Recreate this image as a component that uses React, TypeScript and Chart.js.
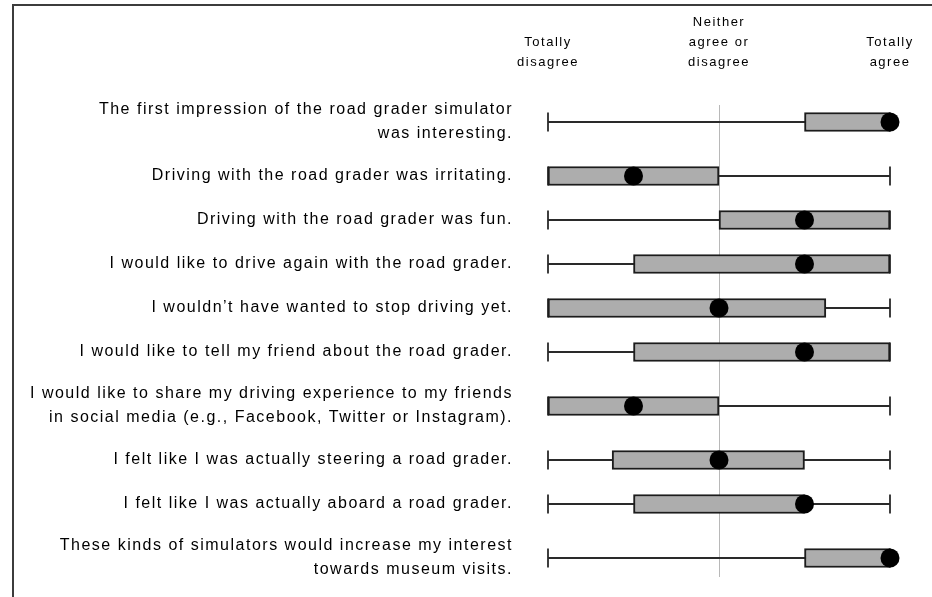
import React, { useEffect, useRef } from "react";
import { Chart, registerables } from "chart.js";

Chart.register(...registerables);

// Statements (each entry = lines of the label)
const categories: string[][] = [
  ["The first impression of the road grader simulator", "was interesting."],
  ["Driving with the road grader was irritating."],
  ["Driving with the road grader was fun."],
  ["I would like to drive again with the road grader."],
  ["I wouldn’t have wanted to stop driving yet."],
  ["I would like to tell my friend about the road grader."],
  ["I would like to share my driving experience to my friends", "in social media (e.g., Facebook, Twitter or Instagram)."],
  ["I felt like I was actually steering a road grader."],
  ["I felt like I was actually aboard a road grader."],
  ["These kinds of simulators would increase my interest", "towards museum visits."],
];

// Likert scale 1..5
const whiskerMin = [1, 1, 1, 1, 1, 1, 1, 1, 1, 1];
const quartile1 = [4, 1, 3, 2, 1, 2, 1, 1.75, 2, 4];
const medians = [5, 2, 4, 4, 3, 4, 2, 3, 4, 5];
const quartile3 = [5, 3, 5, 5, 4.25, 5, 3, 4, 4, 5];
const whiskerMax = [5, 5, 5, 5, 5, 5, 5, 5, 5, 5];

const scaleTickValues = [1, 3, 5];
const scaleTickLabels: string[][] = [
  ["Totally", "disagree"],
  ["Neither", "agree or", "disagree"],
  ["Totally", "agree"],
];

const FONT = "Arial, 'Liberation Sans', sans-serif";

function zeroPadding(s: any) {
  s.paddingLeft = 0;
  s.paddingRight = 0;
  s.paddingTop = 0;
  s.paddingBottom = 0;
}

export default function App() {
  const ref = useRef<HTMLCanvasElement>(null);

  useEffect(() => {
    if (!ref.current) return;
    // row centres derived from label line count (two-line rows are taller)
    const positions: number[] = [];
    let acc = 0;
    categories.forEach((c) => {
      const h = c.length > 1 ? 64 : 44;
      positions.push(acc + h / 2);
      acc += h;
    });

    const datasets: any[] = [];
    datasets.push({
      type: "scatter",
      label: "Median",
      data: medians.map((m, i) => ({ x: m, y: positions[i] })),
      pointRadius: 9.5,
      pointBackgroundColor: "#000",
      pointBorderColor: "#000",
      pointBorderWidth: 0,
      clip: false,
      order: 0,
    });
    datasets.push({
      type: "bar",
      label: "Interquartile range",
      indexAxis: "y",
      data: quartile1.map((a, i) => ({ x: [a, quartile3[i]], y: positions[i] })),
      backgroundColor: "#adadad",
      borderColor: "#1c1c1c",
      borderWidth: 2,
      borderSkipped: false,
      barThickness: 19,
      clip: false,
      order: 1,
    });
    whiskerMin.forEach((mn, i) => {
      datasets.push({
        type: "scatter",
        label: "Range " + (i + 1),
        showLine: true,
        data: [
          { x: mn, y: positions[i] },
          { x: whiskerMax[i], y: positions[i] },
        ],
        borderColor: "#2a2a2a",
        borderWidth: 1.8,
        pointStyle: "line",
        pointRotation: 90,
        pointRadius: 9.5,
        pointBorderColor: "#2a2a2a",
        pointBorderWidth: 1.8,
        clip: false,
        order: 2,
      });
    });

    const spacing = {
      id: "letterSpacing",
      beforeDraw(chart: any) {
        chart.ctx.letterSpacing = "1.5px";
      },
    };

    const chart = new Chart(ref.current, {
      type: "bar",
      data: { datasets },
      plugins: [spacing],
      options: {
        animation: false,
        responsive: false,
        layout: { padding: { top: 0, right: 42, bottom: 20, left: 0 } },
        plugins: { legend: { display: false }, tooltip: { enabled: false } },
        scales: {
          x: {
            type: "linear",
            position: "top",
            min: 1,
            max: 5,
            offset: false,
            afterBuildTicks: (s: any) => {
              s.ticks = scaleTickValues.map((v) => ({ value: v }));
            },
            afterFit: (s: any) => {
              s.height = 105;
              zeroPadding(s);
            },
            ticks: {
              callback: (v: any) => scaleTickLabels[scaleTickValues.indexOf(Number(v))],
              font: { family: FONT, size: 13, lineHeight: 20 / 13 },
              color: "#000",
              padding: 33,
              maxRotation: 0,
              autoSkip: false,
            },
            grid: {
              offset: false,
              color: (c: any) => (c.tick && c.tick.value === 3 ? "#b8b8b8" : "rgba(0,0,0,0)"),
              drawTicks: false,
              lineWidth: 1,
            },
            border: { display: false },
          },
          y: {
            type: "linear",
            reverse: true,
            offset: false,
            beginAtZero: false,
            min: positions[0] - 17,
            max: positions[positions.length - 1] + 19,
            afterBuildTicks: (s: any) => {
              s.ticks = positions.map((p) => ({ value: p }));
            },
            afterFit: (s: any) => {
              s.width = 548;
              zeroPadding(s);
            },
            ticks: {
              callback: (_v: any, i: number) => categories[i],
              font: { family: FONT, size: 16, lineHeight: 1.5 },
              color: "#000",
              padding: 35,
              autoSkip: false,
            },
            grid: { display: false, drawTicks: false, offset: false },
            border: { display: false },
          },
        },
      } as any,
    });
    return () => chart.destroy();
  }, []);

  return (
    <div style={{ position: "fixed", left: 0, top: 0, width: 932, height: 597, background: "#fff" }}>
      <canvas ref={ref} width={932} height={597} style={{ width: 932, height: 597, display: "block" }} />
      <div
        style={{
          position: "absolute",
          left: 12,
          top: 4,
          width: 920,
          height: 593,
          borderTop: "2px solid #3c3c3c",
          borderLeft: "2px solid #3c3c3c",
          boxSizing: "border-box",
          pointerEvents: "none",
        }}
      />
    </div>
  );
}
